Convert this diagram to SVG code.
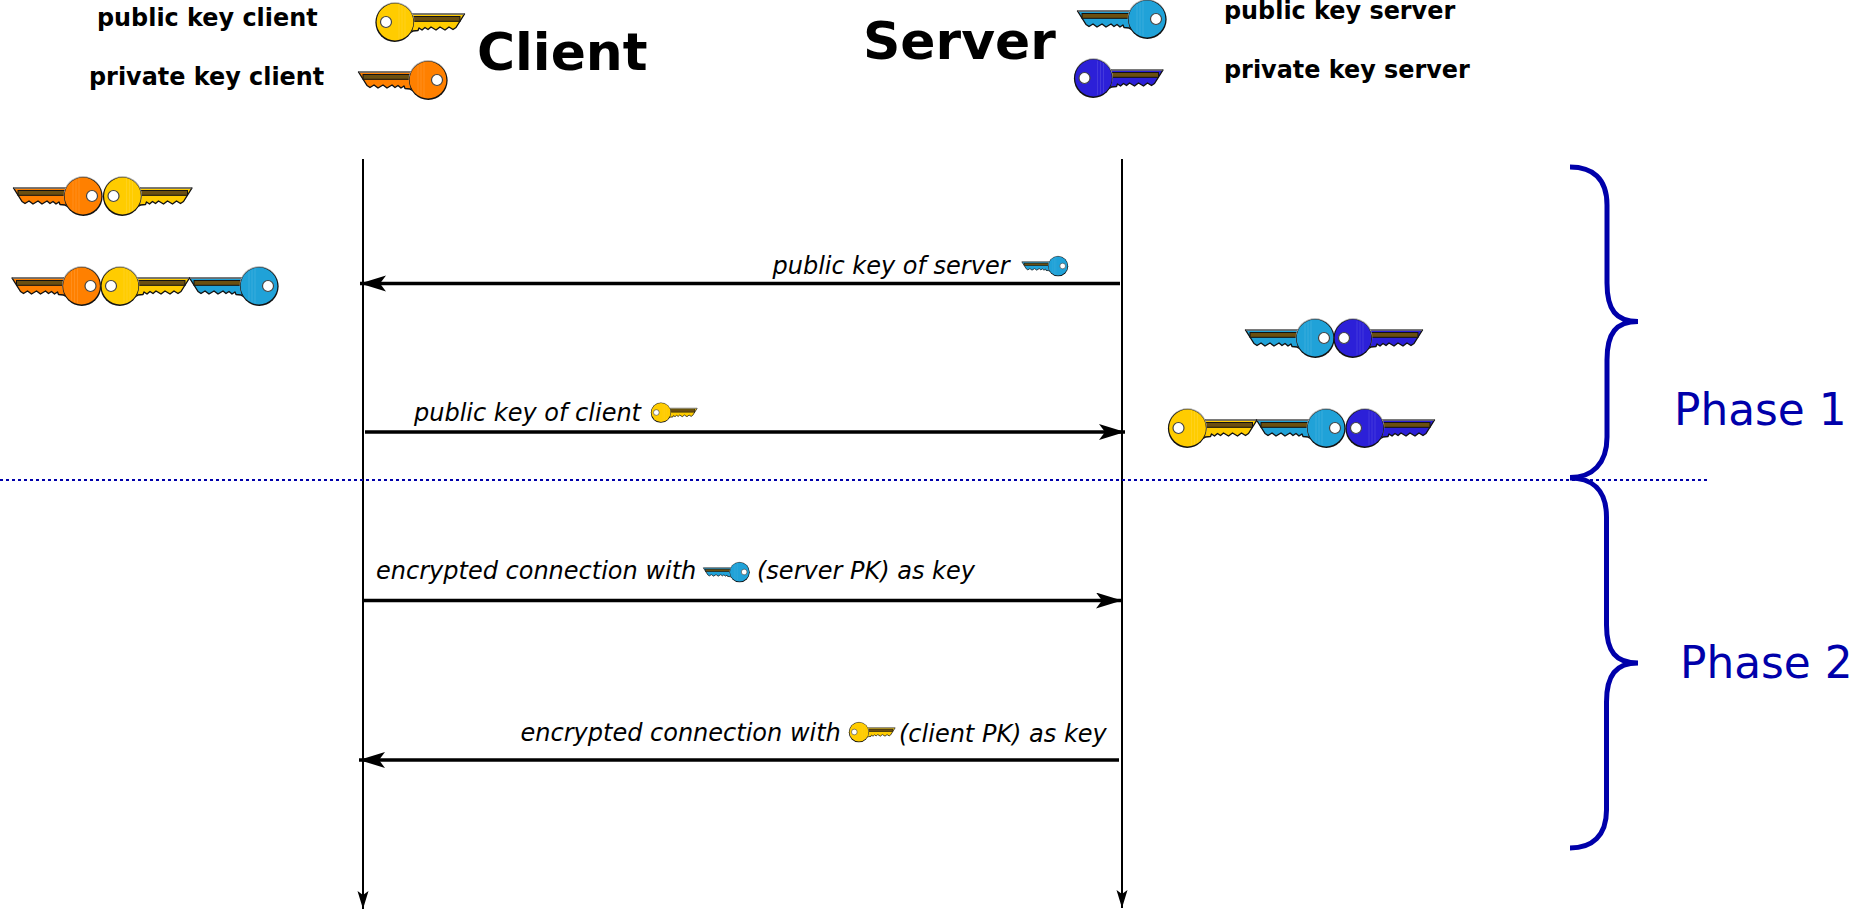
<svg xmlns="http://www.w3.org/2000/svg" xmlns:xlink="http://www.w3.org/1999/xlink" width="1849" height="910" viewBox="0 0 1849 910">
<style>
text{font-family:"DejaVu Sans",sans-serif;fill:#000}
.b{font-weight:bold;font-size:23.9px}
.h{font-weight:bold;font-size:51.9px}
.i{font-style:italic;font-size:24px}
.p{font-size:43.8px;fill:#0000aa}
.ln{fill:none;stroke:#000;stroke-width:2}
.ar{fill:none;stroke:#000;stroke-width:3.6}
.br{fill:none;stroke:#0000aa;stroke-width:5}
.or{color:#ff8000}.ye{color:#ffcc00}.bl{color:#20a2d8}.db{color:#2c20d8}
</style>
<defs>
<marker id="ah" markerUnits="userSpaceOnUse" markerWidth="28" markerHeight="18" refX="26" refY="8" orient="auto"><path d="M0,0 L26,8 L0,16 L6,8Z" fill="#000"/></marker>
<marker id="av" markerUnits="userSpaceOnUse" markerWidth="20" markerHeight="12" refX="18" refY="5.5" orient="auto"><path d="M0,0 L18,5.5 L0,11 L4,5.5Z" fill="#000"/></marker>
<g id="key">
<path d="M-69.500,-8 L-15,-8 L-13,11.500 L-18,9 L-23,8.500 L-24,6 L-27,8 L-30,5.500 L-33,7.500 L-36,5 L-41,8 L-45,5 L-50,8 L-54,5 L-58,7.500 L-61,5.500 Z" fill="currentColor" stroke="#111" stroke-width="1.400" stroke-linejoin="round"/>
<path d="M-69,-8 H-18" fill="none" stroke="#aaa" stroke-width="1.200"/>
<rect x="-65" y="-5.500" width="47" height="4.800" fill="#6b4f10" stroke="#111" stroke-width="1"/>
<circle cy="-.5" r="19.300" fill="#aaa"/>
<circle cx=".3" cy=".6" r="19.300" fill="#111"/>
<circle r="18.400" fill="currentColor"/>
<path d="M-10,-15V15M-7,-16V16M-4,-17V17" fill="none" stroke="#fff" stroke-opacity=".14" stroke-width=".8"/>
<circle cx="9" r="5.500" fill="#fff" stroke="#444" stroke-width="1.200"/>
</g>
</defs>
<g id="connectors">
<path class="ln" marker-end="url(#av)" d="M363,159V909"/>
<path class="ln" marker-end="url(#av)" d="M1122,159V908"/>
<path class="ar" marker-end="url(#ah)" d="M1120,283.500H360"/>
<path class="ar" marker-end="url(#ah)" d="M365,432H1125"/>
<path class="ar" marker-end="url(#ah)" d="M363,600.500H1122"/>
<path class="ar" marker-end="url(#ah)" d="M1119,760H359"/>
<path d="M0,480H1710" fill="none" stroke="#0000aa" stroke-width="2" stroke-dasharray="3,3"/>
</g>
<g id="brace-phase1"><path class="br" d="M1570,167C1592,167 1607,178 1607,205V283C1607,310 1616,321.500 1638,321.500C1616,321.500 1607,333 1607,360V437C1607,464 1592,477.500 1570,477.500" stroke-width="5.500"/></g>
<g id="brace-phase2"><path class="br" d="M1570,478C1592,478 1606.500,490 1606.500,517V625C1606.500,652 1616,663 1638,663C1616,663 1606.500,675 1606.500,702V810C1606.500,836 1592,848 1570,848"/></g>
<g id="client-title"><text class="h" x="477" y="70">Client</text></g>
<g id="server-title"><text class="h" x="863" y="59">Server</text></g>
<g id="label-public-client"><text class="b" x="97" y="26">public key client</text></g>
<g id="label-private-client"><text class="b" x="89" y="85">private key client</text></g>
<g id="label-public-server"><text class="b" x="1224" y="19">public key server</text></g>
<g id="label-private-server"><text class="b" x="1224" y="77.500">private key server</text></g>
<g id="key-public-client"><use xlink:href="#key" class="ye" transform="translate(395,22) scale(-1,1)"/></g>
<g id="key-private-client"><use xlink:href="#key" class="or" transform="translate(428,80)"/></g>
<g id="key-public-server"><use xlink:href="#key" class="bl" transform="translate(1147,19)"/></g>
<g id="key-private-server"><use xlink:href="#key" class="db" transform="translate(1093.500,78) scale(-1,1)"/></g>
<g id="client-keys-1"><use xlink:href="#key" class="or" transform="translate(83,196)"/><use xlink:href="#key" class="ye" transform="translate(122.500,196) scale(-1,1)"/></g>
<g id="client-keys-2"><use xlink:href="#key" class="or" transform="translate(81.500,286)"/><use xlink:href="#key" class="ye" transform="translate(120,286) scale(-1,1)"/><use xlink:href="#key" class="bl" transform="translate(259,286)"/></g>
<g id="server-keys-1"><use xlink:href="#key" class="bl" transform="translate(1315,338)"/><use xlink:href="#key" class="db" transform="translate(1353,338) scale(-1,1)"/></g>
<g id="server-keys-2"><use xlink:href="#key" class="ye" transform="translate(1187.500,428) scale(-1,1)"/><use xlink:href="#key" class="bl" transform="translate(1326,428)"/><use xlink:href="#key" class="db" transform="translate(1365,428) scale(-1,1)"/></g>
<g id="msg-public-server"><text class="i" x="772.500" y="273.500">public key of server</text><use xlink:href="#key" class="bl" transform="translate(1058,266) scale(.52)"/></g>
<g id="msg-public-client"><text class="i" x="414" y="420.500">public key of client</text><use xlink:href="#key" class="ye" transform="translate(661,412.500) scale(-.52,.52)"/></g>
<g id="msg-enc-server"><text class="i" x="376" y="578.500">encrypted connection with</text><use xlink:href="#key" class="bl" transform="translate(739.500,572) scale(.52)"/><text class="i" x="757" y="578.500">(server PK) as key</text></g>
<g id="msg-enc-client"><text class="i" x="520.500" y="740.500">encrypted connection with</text><use xlink:href="#key" class="ye" transform="translate(859,732) scale(-.52,.52)"/><text class="i" x="899" y="742">(client PK) as key</text></g>
<g id="phase1"><text class="p" x="1674" y="424.500">Phase 1</text></g>
<g id="phase2"><text class="p" x="1680" y="678">Phase 2</text></g>
</svg>
